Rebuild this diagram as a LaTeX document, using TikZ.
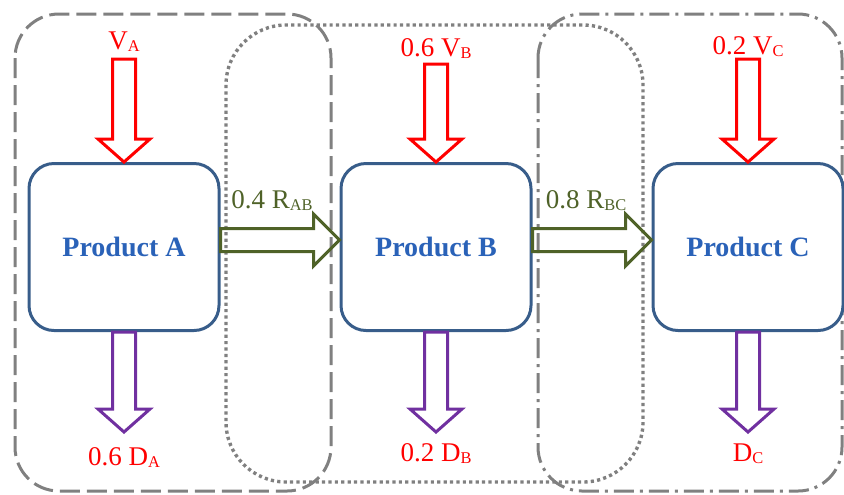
\documentclass[tikz,border=0pt]{standalone}
\usepackage{fontspec}
\setmainfont{Liberation Serif}
\usetikzlibrary{calc,positioning}

\definecolor{boxblue}{HTML}{385D8A}
\definecolor{prodblue}{HTML}{2A62B8}
\definecolor{flowgreen}{HTML}{4F6228}
\definecolor{outpurple}{HTML}{7030A0}
\definecolor{zonegrey}{HTML}{808080}

% small lowered index, as in the labels
\newcommand{\idx}[1]{\raisebox{-1pt}{\fontsize{8.2}{9}\selectfont #1}}

% block arrows: #1 style, #2 start, #3 tip
\newcommand{\fatdown}[3]{%
  \draw[#1] ($(#2)+(-11.5,0)$) -- ($(#3)+(-11.5,-23)$) -- ($(#3)+(-26,-23)$) -- (#3)
    -- ($(#3)+(26,-23)$) -- ($(#3)+(11.5,-23)$) -- ($(#2)+(11.5,0)$) -- cycle;}
\newcommand{\fatright}[3]{%
  \draw[#1] ($(#2)+(0,-11.5)$) -- ($(#3)+(-26,-11.5)$) -- ($(#3)+(-26,-26)$) -- (#3)
    -- ($(#3)+(-26,26)$) -- ($(#3)+(-26,11.5)$) -- ($(#2)+(0,11.5)$) -- cycle;}

\begin{document}
\begin{tikzpicture}[x=0.5pt, y=-0.5pt,
    zone/.style={draw=zonegrey, line width=1.5pt, rounded corners=22pt},
    product/.style={draw=boxblue, line width=1.5pt, rounded corners=12.5pt, fill=white,
      minimum width=95pt, minimum height=83.5pt, text=prodblue,
      font=\fontsize{14}{16}\selectfont\bfseries},
    inflow/.style={draw=red, line width=1.5pt},
    outflow/.style={draw=outpurple, line width=1.5pt},
    transfer/.style={draw=flowgreen, line width=1.5pt},
    lbl/.style={inner sep=0pt, anchor=base, text=red, font=\fontsize{13.5}{16}\selectfont},
    glbl/.style={lbl, text=flowgreen}
  ]
  \useasboundingbox (0,0) rectangle (844,494);

  % groups
  \draw[zone, dash pattern=on 10pt off 3.5pt] (15,14) rectangle (331,491);
  \draw[zone, line width=1.7pt, dash pattern=on 1.6pt off 1.6pt, rounded corners=30pt] (226,25) rectangle (643,482);
  \draw[zone, dash pattern=on 10pt off 3pt on 1.5pt off 3pt] (538,14) rectangle (842,491);

  % products
  \node[product] (A) at (124,247) {Product A};
  \node[product] (B) at (436,247) {Product B};
  \node[product] (C) at (748,247) {Product C};

  % inputs
  \coordinate (vA) at ($(A.north)+(0,-103)$);
  \coordinate (vB) at ($(B.north)+(0,-98)$);
  \coordinate (vC) at ($(C.north)+(0,-103)$);
  \fatdown{inflow}{vA}{A.north}
  \fatdown{inflow}{vB}{B.north}
  \fatdown{inflow}{vC}{C.north}
  \node[lbl] (vAl) at ($(vA)+(0,-10)$) {V\idx{A}};
  \node[lbl] (vBl) at ($(vB)+(0,-8)$) {0.6 V\idx{B}};
  \node[lbl] (vCl) at ($(vC)+(0,-5)$) {0.2 V\idx{C}};

  % demands
  \coordinate (dA) at ($(A.south)+(0,100)$);
  \coordinate (dB) at ($(B.south)+(0,100)$);
  \coordinate (dC) at ($(C.south)+(0,100)$);
  \fatdown{outflow}{A.south}{dA}
  \fatdown{outflow}{B.south}{dB}
  \fatdown{outflow}{C.south}{dC}
  \node[lbl] (dAl) at ($(dA)+(0,33)$) {0.6 D\idx{A}};
  \node[lbl] (dBl) at ($(dB)+(0,29)$) {0.2 D\idx{B}};
  \node[lbl] (dCl) at ($(dC)+(0,29)$) {D\idx{C}};

  % transfers
  \coordinate (rAB) at ($(A.east)+(0,-7)$);
  \coordinate (rAB') at ($(B.west)+(0,-7)$);
  \coordinate (rBC) at ($(B.east)+(0,-7)$);
  \coordinate (rBC') at ($(C.west)+(0,-7)$);
  \fatright{transfer}{rAB}{rAB'}
  \fatright{transfer}{rBC}{rBC'}
  \node[glbl] (rABl) at (272,208) {0.4 R\idx{AB}};
  \node[glbl] (rBCl) at (586,208) {0.8 R\idx{BC}};
\end{tikzpicture}
\end{document}
